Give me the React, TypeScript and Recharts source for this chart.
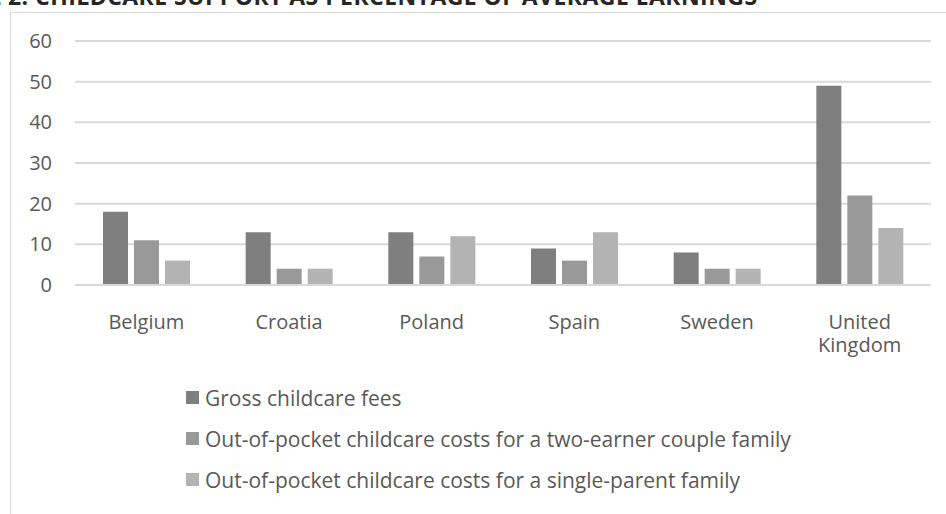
import { Bar, BarChart, CartesianGrid, Legend, Text, XAxis, YAxis } from "recharts";

const countries = ["Belgium", "Croatia", "Poland", "Spain", "Sweden", "United Kingdom"];
const grossFees = [18, 13, 13, 9, 8, 49];
const twoEarner = [11, 4, 7, 6, 4, 22];
const singleParent = [6, 4, 12, 13, 4, 14];
const yTicks = [0, 10, 20, 30, 40, 50, 60];

const series = [
  { key: "gross", name: "Gross childcare fees", color: "#7f7f7f" },
  { key: "couple", name: "Out-of-pocket childcare costs for a two-earner couple family", color: "#999999" },
  { key: "single", name: "Out-of-pocket childcare costs for a single-parent family", color: "#b3b3b3" },
];

const data = countries.map((country, i) => ({
  country,
  gross: grossFees[i],
  couple: twoEarner[i],
  single: singleParent[i],
}));

const FONT = "'Open Sans', sans-serif";
const TEXT = "#595959";

function CountryTick({ x, y, payload }: any) {
  return (
    <Text
      x={x}
      y={y + 22}
      width={100}
      lineHeight={23}
      textAnchor="middle"
      verticalAnchor="start"
      fill={TEXT}
      style={{ fontSize: 20, fontFamily: FONT }}
    >
      {payload.value}
    </Text>
  );
}

// legend keeps the series order (recharts would sort it by name)
function LegendList() {
  return (
    <div style={{ fontFamily: FONT, fontSize: 21, color: TEXT }}>
      {series.map((s) => (
        <div key={s.key} style={{ height: 41, display: "flex", alignItems: "center", whiteSpace: "nowrap" }}>
          <span style={{ width: 13, height: 13, background: s.color, marginRight: 6, display: "inline-block" }} />
          {s.name}
        </div>
      ))}
    </div>
  );
}

export default function App() {
  return (
    <div style={{ position: "absolute", left: 0, top: 0, width: 946, height: 514, overflow: "hidden", background: "#fff" }}>
      {/* heading sits mostly above the page edge, as in the source */}
      <div
        style={{
          position: "absolute",
          left: 8,
          top: -18,
          fontFamily: FONT,
          fontWeight: 700,
          fontSize: 23,
          letterSpacing: 0.45,
          lineHeight: "28px",
          color: "#262626",
          whiteSpace: "nowrap",
        }}
      >
        <span style={{ position: "absolute", right: "100%", paddingRight: 6 }}>FIGURE</span>
        2. CHILDCARE SUPPORT AS PERCENTAGE OF AVERAGE EARNINGS
      </div>
      <div
        style={{
          position: "absolute",
          left: 10,
          top: 12,
          width: 960,
          height: 520,
          border: "1px solid #d9d9d9",
        }}
      />
      <div style={{ position: "absolute", left: 0, top: 0 }}>
        <BarChart
          width={946}
          height={514}
          data={data}
          margin={{ top: 41, right: 15, bottom: 169, left: 0 }}
          barCategoryGap={28}
          barGap={6}
        >
          <CartesianGrid vertical={false} stroke="#d9d9d9" strokeWidth={2} />
          <XAxis
            dataKey="country"
            height={60}
            interval={0}
            tickLine={false}
            axisLine={{ stroke: "#d9d9d9", strokeWidth: 2 }}
            tick={<CountryTick />}
          />
          <YAxis
            width={75}
            domain={[0, 60]}
            ticks={yTicks}
            axisLine={false}
            tickLine={false}
            tickMargin={17}
            tick={{ fill: TEXT, fontSize: 20, fontFamily: FONT }}
          />
          <Legend
            layout="vertical"
            align="center"
            verticalAlign="middle"
            wrapperStyle={{ left: 186, top: 377, width: 700 }}
            content={<LegendList />}
          />
          {series.map((s) => (
            <Bar key={s.key} dataKey={s.key} name={s.name} fill={s.color} isAnimationActive={false} />
          ))}
        </BarChart>
      </div>
    </div>
  );
}
